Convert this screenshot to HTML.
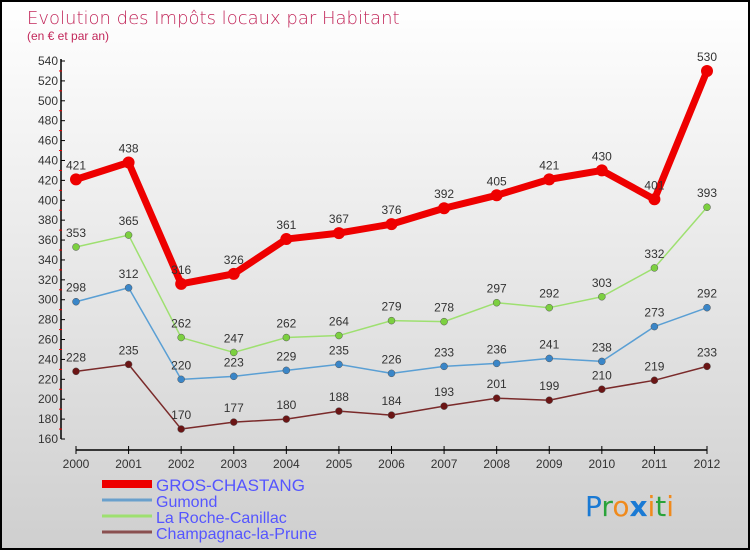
<!DOCTYPE html>
<html><head><meta charset="utf-8"><style>
html,body{margin:0;padding:0}
body{width:750px;height:550px;overflow:hidden;font-family:"Liberation Sans",sans-serif}
#c{position:absolute;left:0;top:0;width:746px;height:546px;border:2px solid #000;background:linear-gradient(#ffffff,#cfcfcf)}
</style></head><body>
<div id="c">
<svg id="s" width="746" height="546" xmlns="http://www.w3.org/2000/svg" font-family="Liberation Sans, sans-serif">
<text x="25" y="22" font-size="18" fill="#c2275a" font-family="DejaVu Sans, sans-serif" font-weight="200">Evolution des Impôts locaux par Habitant</text>
<text x="25" y="38" font-size="12" fill="#c2275a">(en € et par an)</text>
<g id="axes"></g>
<g id="series"></g>
<g id="legend"></g>
<text x="583" y="514" font-size="28" font-family="DejaVu Sans, sans-serif"><tspan fill="#1a7ad4">P</tspan><tspan fill="#2aa33a">r</tspan><tspan fill="#f08a1c">o</tspan><tspan fill="#1a7ad4" font-weight="bold">x</tspan><tspan fill="#f08a1c">i</tspan><tspan fill="#2aa33a">t</tspan><tspan fill="#f08a1c">i</tspan></text>
</svg>
</div>
<script>
const years=[2000,2001,2002,2003,2004,2005,2006,2007,2008,2009,2010,2011,2012];
const yTicks=[160,180,200,220,240,260,280,300,320,340,360,380,400,420,440,460,480,500,520,540];
const grosChastang=[421,438,316,326,361,367,376,392,405,421,430,401,530];
const gumond=[298,312,220,223,229,235,226,233,236,241,238,273,292];
const rocheCanillac=[353,365,262,247,262,264,279,278,297,292,303,332,393];
const champagnac=[228,235,170,177,180,188,184,193,201,199,210,219,233];
const seriesNames=["GROS-CHASTANG","Gumond","La Roche-Canillac","Champagnac-la-Prune"];
const NS="http://www.w3.org/2000/svg";
const X0=74,X1=705,Y0=437,Y1=59;
const xs=i=>X0+(X1-X0)*i/(years.length-1);
const ys=v=>Y0-(v-160)*(Y0-Y1)/380;
function mk(tag,attrs,parent){const e=document.createElementNS(NS,tag);for(const k in attrs)e.setAttribute(k,attrs[k]);parent.appendChild(e);return e;}
const ax=document.getElementById('axes');
let yl=mk('line',{x1:59,y1:Y1-2,x2:59,y2:Y0,stroke:'#000','stroke-width':1.5},ax);


yTicks.forEach(t=>{
 const y=ys(t);
 mk('line',{x1:59,y1:y,x2:63,y2:y,stroke:'#000'},ax);
 if(t<540)mk('line',{x1:57,y1:ys(t+10),x2:60,y2:ys(t+10),stroke:'#e00'},ax);
 const tx=mk('text',{x:56,y:y+4,'font-size':12,'text-anchor':'end',fill:'#333'},ax);
 tx.textContent=t;
 
 
});
const xa=mk('line',{x1:X0,y1:448,x2:X1,y2:448,stroke:'#000','stroke-width':1.5},ax);


years.forEach((yr,i)=>{
 const x=xs(i);
 mk('line',{x1:x,y1:444,x2:x,y2:452,stroke:'#000'},ax);
 const tx=mk('text',{x:x,y:466,'font-size':12,'text-anchor':'middle',fill:'#333'},ax);
 tx.textContent=yr;
 
 
});
const sg=document.getElementById('series');
const defs=[[champagnac,'#7a2a2a','#6b1515',1.5,3.5,'champagnac'],[gumond,'#5a9fd4','#3a86c8',1.5,3.5,'gumond'],[rocheCanillac,'#9ee070','#7cd040',1.5,3.5,'roche-canillac'],[grosChastang,'#ee0000','#ee0000',7,6,'gros-chastang']];
defs.forEach(([d,lc,pc,w,r,nm])=>{
 const pts=d.map((v,i)=>xs(i)+','+ys(v)).join(' ');
 const pl=mk('polyline',{points:pts,fill:'none',stroke:lc,'stroke-width':w,'stroke-linejoin':'round'},sg);
 
 
 d.forEach((v,i)=>{
  const c=mk('circle',{cx:xs(i),cy:ys(v),r:r,fill:pc,stroke:nm==='gros-chastang'?'none':'#555','stroke-width':0.5},sg);
  
  
  const t=mk('text',{x:xs(i),y:ys(v)-10,'font-size':12,'text-anchor':'middle',fill:'#333'},sg);
  t.textContent=v;
  
  
 });
});
const lg=document.getElementById('legend');
const lcols=['#ee0000','#6aa0cc','#9ee070','#8a5050'];
const lw=[8,3,3,3];
seriesNames.forEach((n,i)=>{
 const y=490+i*16;
 const l=mk('line',{x1:100,y1:y-8,x2:150,y2:y-8,stroke:lcols[i],'stroke-width':lw[i]},lg);
 
 
 const t=mk('text',{x:154,y:y-1,'font-size':i===0?17:16,fill:'#5555ff'},lg);
 t.textContent=n;
 
 
});
</script>
</body></html>
